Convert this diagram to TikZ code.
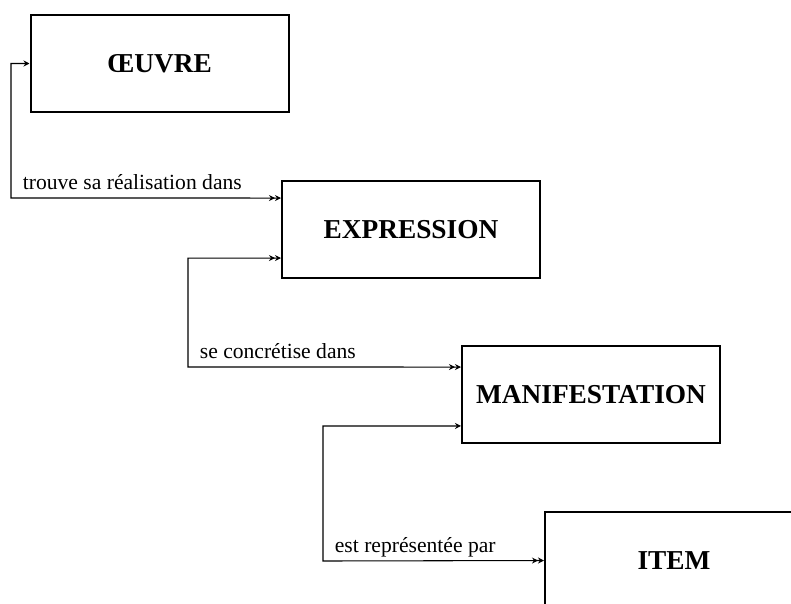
\documentclass[tikz,border=0pt]{standalone}
\usepackage{fontspec}
\setmainfont{Liberation Serif}
\usepackage{tikz}
\usetikzlibrary{arrows.meta,positioning,calc}
\tikzset{%
	block/.style = {draw, rectangle, line width=1.5pt, minimum width=193.5pt, minimum height=72.75pt, font=\fontsize{20.5}{24}\selectfont\bfseries},
	conn/.style  = {line width=0.8pt, >={Stealth[length=4.5pt,width=4.5pt]}},
	lbl/.style   = {inner sep=0pt, anchor=base west, xshift=8.5pt, yshift=6.5pt, font=\fontsize{16.2}{19}\selectfont},
}
\begin{document}
\begin{tikzpicture}[x=0.75pt, y=-0.75pt]
	\path[use as bounding box, clip] (0,0) rectangle (791,603);
	\node[block] (oeuvre) at (159.5,63.5) {ŒUVRE};
	\node[block] (expr) at (411,229.5) {EXPRESSION};
	\node[block] (manif) at (591,394.5) {MANIFESTATION};
	\node[block] (item) at (674,560.5) {ITEM};
	% points d'entree
	\coordinate (e1) at ([yshift=23.6pt]expr.west);
	\coordinate (e2) at ([yshift=-21.4pt]expr.west);
	\coordinate (m1) at ([yshift=20.6pt]manif.west);
	\coordinate (m2) at ([yshift=-23.6pt]manif.west);
	\draw[conn,<->>] (oeuvre.west) -| (11,198) node[lbl] {trouve sa réalisation dans} -- (e1);
	\draw[conn,<<->>] (e2) -| (188,367) node[lbl] {se concrétise dans} -- (m1);
	\draw[conn,<->>] (m2) -| (323,561) node[lbl] {est représentée par} -- (item.west);
\end{tikzpicture}
\end{document}
